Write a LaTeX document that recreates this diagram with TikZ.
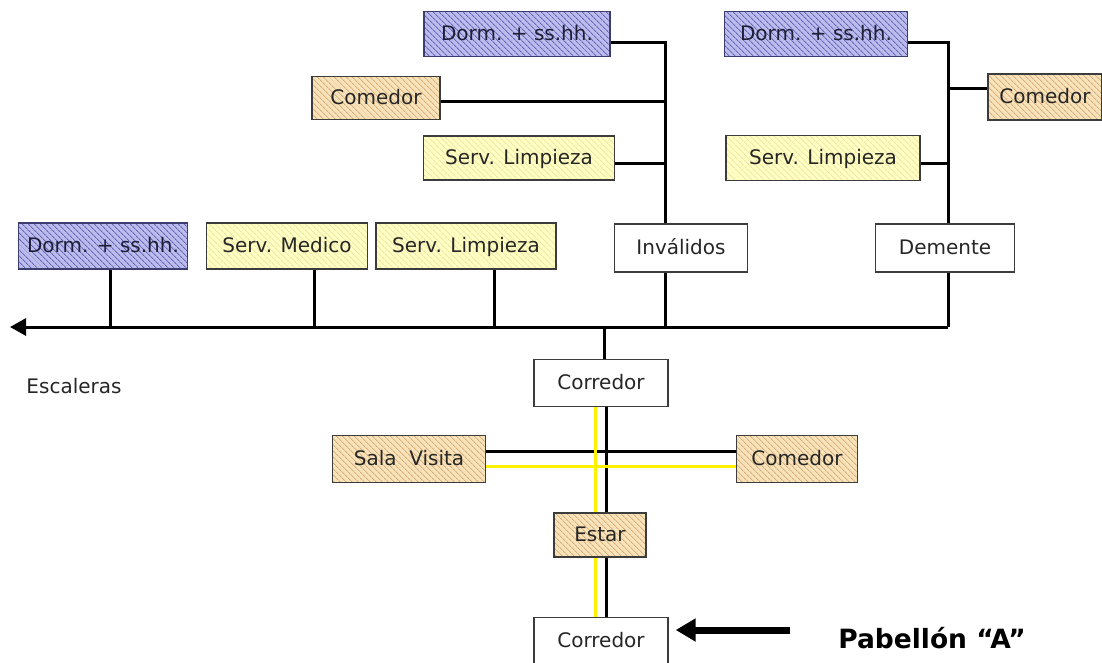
\documentclass[tikz,border=0pt]{standalone}
\usepackage{fontspec}
\setmainfont{DejaVu Sans}
\usetikzlibrary{arrows.meta,patterns.meta,backgrounds}
\definecolor{dormfill}{HTML}{BCBCEC}
\definecolor{dormline}{HTML}{6464B8}
\definecolor{comfill}{HTML}{F8E2BA}
\definecolor{comline}{HTML}{D8AE78}
\definecolor{servfill}{HTML}{FFFFC4}
\definecolor{servline}{HTML}{EEE4A4}
\definecolor{boxedge}{HTML}{3C3C3C}

\begin{document}
\begin{tikzpicture}[x=1pt,y=-1pt,
    box/.style={draw=boxedge,line width=1.4pt,inner sep=0pt,text=black!85,
      text height=14pt,text depth=1pt,font=\fontsize{20}{24}\selectfont},
    plainbox/.style={box,fill=white},
    dormbox/.style={box,draw=dormline!60!black,text=dormline!30!black,
      preaction={fill=dormfill},pattern color=dormline,
      pattern={Lines[angle=-45,distance=4pt,line width=1pt]}},
    combox/.style={box,preaction={fill=comfill},pattern color=comline,
      pattern={Lines[angle=-45,distance=4pt,line width=0.9pt]}},
    servbox/.style={box,preaction={fill=servfill},pattern color=servline,
      pattern={Lines[angle=-45,distance=4pt,line width=1pt]}},
    wire/.style={line width=3pt,line join=miter},
    yline/.style={line width=3pt,draw=yellow}]
  \useasboundingbox (0,0) rectangle (1102,662);

  % grupo invalidos
  \node[dormbox,minimum width=186pt,minimum height=45pt] (dormA) at (517,34) {Dorm. + ss.hh.};
  \node[combox,minimum width=128pt,minimum height=43pt] (comA) at (376,98) {Comedor};
  \node[servbox,minimum width=191pt,minimum height=44pt] (limA) at (519,158) {Serv. Limpieza};
  \node[plainbox,minimum width=133pt,minimum height=48pt] (inv) at (681,248) {Inválidos};

  % grupo dementes
  \node[dormbox,minimum width=183pt,minimum height=45pt] (dormB) at (816,34) {Dorm. + ss.hh.};
  \node[combox,minimum width=114pt,minimum height=46pt] (comB) at (1045,97) {Comedor};
  \node[servbox,minimum width=194pt,minimum height=45pt] (limB) at (823,158) {Serv. Limpieza};
  \node[plainbox,minimum width=139pt,minimum height=48pt] (dem) at (945,248) {Demente};

  % fila inferior
  \node[dormbox,minimum width=169pt,minimum height=46pt] (dormC) at (103,246) {Dorm. + ss.hh.};
  \node[servbox,minimum width=161pt,minimum height=46pt] (med) at (287,246) {Serv. Medico};
  \node[servbox,minimum width=180pt,minimum height=46pt] (limC) at (466,246) {Serv. Limpieza};

  % pabellon
  \node[plainbox,minimum width=134pt,minimum height=47pt] (cor1) at (601,383) {Corredor};
  \node[combox,minimum width=153pt,minimum height=47pt] (sala) at (409,459) {Sala\ \ Visita};
  \node[combox,minimum width=121pt,minimum height=47pt] (com2) at (797,459) {Comedor};
  \node[combox,minimum width=92pt,minimum height=44pt] (estar) at (600,535) {Estar};
  \node[plainbox,minimum width=134pt,minimum height=47pt] (cor2) at (601,641) {Corredor};

  \node[font=\fontsize{20}{24}\selectfont,text=black!85] (esc) at (74,386) {Escaleras};
  \node[font=\bfseries\fontsize{26.5}{30}\selectfont] (pab) at (932,638) {Pabellón “A”};

  \coordinate (a1) at (665,42);
  \coordinate (a2) at (665,101);
  \coordinate (a3) at (665,163);
  \coordinate (a4) at (665,327);
  \coordinate (b1) at (948,42);
  \coordinate (b2) at (948,88);
  \coordinate (b3) at (948,163);
  \coordinate (b4) at (948,327);
  \coordinate (d1) at (110,327);
  \coordinate (d2) at (314,327);
  \coordinate (d3) at (494,327);
  \coordinate (c0) at (604,327);
  \coordinate (fin) at (10,327);
  \coordinate (v1) at (606,0);
  \coordinate (v2) at (595,0);
  \coordinate (h1) at (0,451);
  \coordinate (h2) at (0,466);
  \coordinate (p1) at (790,630);

  \begin{scope}[on background layer]
    \draw[wire] (dormA.east |- a1) -- (a1) -- (a4);
    \draw[wire] (comA.east |- a2) -- (a2);
    \draw[wire] (limA.east |- a3) -- (a3);
    \draw[wire] (dormB.east |- b1) -- (b1) -- (b4);
    \draw[wire] (comB.west |- b2) -- (b2);
    \draw[wire] (limB.east |- b3) -- (b3);
    \draw[wire,-{Triangle[length=16pt,width=17pt]}] (b4) -- (fin);
    \draw[wire] (dormC.south -| d1) -- (d1);
    \draw[wire] (med.south -| d2) -- (d2);
    \draw[wire] (limC.south -| d3) -- (d3);
    \draw[wire] (c0) -- (cor1.north -| c0);
    \draw[wire] (sala.east |- h1) -- (com2.west |- h1);
    \draw[wire] (cor1.south -| v1) -- (cor2.north -| v1);
    \draw[yline] (sala.east |- h2) -- (com2.west |- h2);
    \draw[yline] (cor1.south -| v2) -- (cor2.north -| v2);
  \end{scope}

  \draw[line width=7pt,shorten >=7pt,-{Triangle[length=20pt,width=22pt]}] (p1) -- (cor2.east |- p1);
\end{tikzpicture}
\end{document}
